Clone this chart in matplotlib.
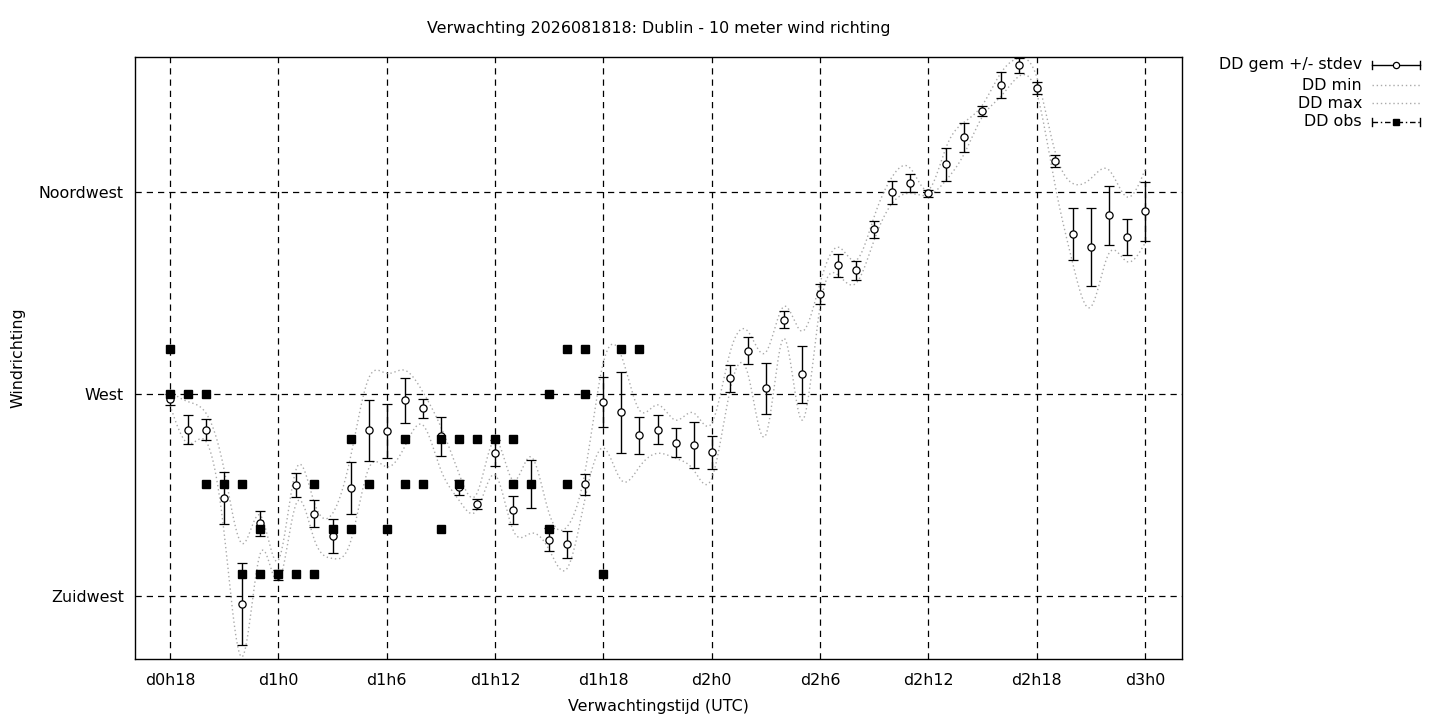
import matplotlib
matplotlib.use('agg')

import matplotlib.pyplot as plt
from matplotlib.lines import Line2D
import numpy as np

# forecast hours since d0h0
hours = list(range(18, 73))

dd_mean = [268.8, 262.1, 262.1, 246.8, 223.2, 241.2, 229.7, 249.7, 243.4, 238.3,
           249.0, 261.9, 261.7, 268.6, 266.8, 260.6, 249.2, 245.5, 256.8, 244.1,
           250.0, 237.6, 236.5, 249.9, 268.2, 265.9, 260.8, 262.1, 259.2, 258.6,
           257.0, 273.5, 279.7, 271.3, 286.6, 274.4, 292.2, 298.7, 297.6, 306.7,
           314.9, 317.1, 314.7, 321.2, 327.2, 333.0, 338.8, 343.2, 338.1, 321.9,
           305.6, 302.7, 309.8, 304.9, 310.7]
dd_std = [1.3, 3.2, 2.4, 5.8, 9.1, 2.8, 1.2, 2.7, 2.9, 3.8,
          5.8, 6.7, 6.0, 5.0, 2.2, 4.4, 1.7, 1.1, 2.9, 3.1,
          5.3, 2.6, 3.1, 2.3, 5.6, 9.0, 4.1, 3.2, 3.3, 5.1,
          3.6, 3.0, 2.9, 5.7, 1.9, 6.3, 2.2, 2.6, 2.1, 1.9,
          2.6, 2.0, 0.8, 3.7, 3.2, 1.1, 2.9, 1.6, 1.3, 1.4,
          5.8, 8.7, 6.6, 4.0, 6.6]
dd_min = [267.5, 259.0, 259.4, 239.0, 211.5, 234.5, 228.3, 245.7, 237.5, 233.4,
          237.1, 253.4, 253.8, 258.3, 263.1, 253.1, 246.4, 244.2, 252.0, 239.7,
          239.0, 235.3, 231.2, 247.0, 258.0, 250.8, 253.8, 256.8, 255.7, 253.1,
          251.2, 270.5, 274.6, 260.9, 282.4, 264.2, 289.4, 296.5, 294.7, 304.3,
          312.5, 314.7, 314.3, 317.7, 323.6, 331.8, 336.2, 340.7, 337.0, 316.9,
          299.1, 289.4, 301.3, 299.5, 303.6]
dd_max = [270.5, 268.3, 265.7, 253.1, 236.7, 243.0, 233.0, 253.4, 245.7, 243.4,
          256.0, 273.5, 274.6, 275.3, 270.5, 262.7, 252.3, 247.9, 259.8, 250.8,
          256.0, 243.4, 240.5, 253.0, 277.0, 278.5, 266.4, 267.6, 264.2, 265.8,
          263.5, 279.0, 284.0, 279.3, 289.5, 284.0, 294.7, 302.7, 299.8, 309.5,
          318.4, 320.3, 315.5, 325.1, 330.6, 334.4, 341.4, 344.8, 340.7, 324.3,
          316.9, 318.0, 319.9, 313.9, 319.9]

obs_hours = [18, 18, 19, 20, 20, 21, 22, 22, 23, 23, 24, 25, 26, 26, 27, 28, 28,
             29, 30, 31, 31, 32, 33, 33, 34, 34, 35, 36, 37, 37, 38, 39, 39,
             40, 40, 41, 41, 42, 43, 44]
obs_dd = [280, 270, 270, 270, 250, 250, 250, 230, 240, 230, 230, 230, 250, 230,
          240, 260, 240, 250, 240, 260, 250, 250, 260, 240, 260, 250, 260, 260,
          260, 250, 250, 270, 240, 280, 250, 280, 270, 230, 280, 280]

xtick_hours = [18, 24, 30, 36, 42, 48, 54, 60, 66, 72]
xtick_labels = ['d0h18', 'd1h0', 'd1h6', 'd1h12', 'd1h18',
                'd2h0', 'd2h6', 'd2h12', 'd2h18', 'd3h0']
ytick_values = [225, 270, 315]
ytick_labels = ['Zuidwest', 'West', 'Noordwest']


def csplines(x, y, n=1200):
    # natural cubic spline, like gnuplot's "smooth csplines"
    x = np.asarray(x, float)
    y = np.asarray(y, float)
    k = len(x)
    h = np.diff(x)
    A = np.zeros((k, k))
    b = np.zeros(k)
    A[0, 0] = A[-1, -1] = 1.0
    for i in range(1, k - 1):
        A[i, i - 1] = h[i - 1]
        A[i, i] = 2 * (h[i - 1] + h[i])
        A[i, i + 1] = h[i]
        b[i] = 6 * ((y[i + 1] - y[i]) / h[i] - (y[i] - y[i - 1]) / h[i - 1])
    M = np.linalg.solve(A, b)
    xs = np.linspace(x[0], x[-1], n)
    idx = np.clip(np.searchsorted(x, xs) - 1, 0, k - 2)
    x0, x1 = x[idx], x[idx + 1]
    hh = x1 - x0
    t0, t1 = x1 - xs, xs - x0
    ys = (M[idx] * t0 ** 3 + M[idx + 1] * t1 ** 3) / (6 * hh) \
        + (y[idx] / hh - M[idx] * hh / 6) * t0 \
        + (y[idx + 1] / hh - M[idx + 1] * hh / 6) * t1
    return xs, ys


plt.rcParams['font.family'] = ['DejaVu Sans']
FS = 11.4

fig = plt.figure(figsize=(14.4, 7.2), dpi=100)
ax = fig.add_axes([135 / 1440, 1 - 659 / 720, (1182 - 135) / 1440, (659 - 57) / 720])

dotted = dict(color='#aaaaaa', linewidth=1.0, linestyle=(0, (1, 2)), zorder=2)
xs, ys = csplines(hours, dd_min)
ax.plot(xs, ys, **dotted)
xs, ys = csplines(hours, dd_max)
ax.plot(xs, ys, **dotted)

ax.errorbar(hours, dd_mean, yerr=dd_std, fmt='o', ms=5.2, mfc='white', mec='black',
            mew=0.9, ecolor='black', elinewidth=1.0, capsize=3.6, capthick=1.0, zorder=4)
ax.plot(obs_hours, obs_dd, 's', ms=6.0, color='black', zorder=5)

ax.set_xlim(16.06, 74.05)
ax.set_ylim(211.0, 345.06)
ax.set_xticks(xtick_hours)
ax.set_xticklabels(xtick_labels)
ax.set_yticks(ytick_values)
ax.set_yticklabels(ytick_labels)
ax.tick_params(length=0, labelsize=FS)
ax.tick_params(axis='x', pad=10)
ax.tick_params(axis='y', pad=8)
ax.grid(True, color='black', linestyle=(0, (5, 4)), linewidth=0.9)
for s in ax.spines.values():
    s.set_linewidth(1.0)

fig.text(658.5 / 1440, 1 - 29 / 720, 'Verwachting 2026081818: Dublin - 10 meter wind richting',
         ha='center', va='center', fontsize=FS)
fig.text(658.5 / 1440, 1 - 707 / 720, 'Verwachtingstijd (UTC)',
         ha='center', va='center', fontsize=FS)
fig.text(18 / 1440, 1 - 358 / 720, 'Windrichting', rotation=90,
         ha='center', va='center', fontsize=FS)

# legend in gnuplot style, right of the plot
rows = [('DD gem +/- stdev', 65), ('DD min', 85), ('DD max', 103), ('DD obs', 122)]
x0, x1 = 1372 / 1440, 1420 / 1440
xm = (x0 + x1) / 2
cap = 4 / 720
for label, py in rows:
    yy = 1 - py / 720
    fig.text(1362 / 1440, yy, label, ha='right', va='center', fontsize=FS)
    if label == 'DD gem +/- stdev':
        fig.add_artist(Line2D([x0, x1], [yy, yy], color='black', lw=1.0))
        fig.add_artist(Line2D([x0, x0], [yy - cap, yy + cap], color='black', lw=1.0))
        fig.add_artist(Line2D([x1, x1], [yy - cap, yy + cap], color='black', lw=1.0))
        fig.add_artist(Line2D([xm], [yy], marker='o', ms=4.5, mfc='white', mec='black', mew=0.9))
    elif label == 'DD obs':
        fig.add_artist(Line2D([x0, x1], [yy, yy], color='black', lw=1.0,
                              linestyle=(0, (4, 2, 1, 2))))
        fig.add_artist(Line2D([x0, x0], [yy - cap, yy + cap], color='black', lw=1.0))
        fig.add_artist(Line2D([x1, x1], [yy - cap, yy + cap], color='black', lw=1.0))
        fig.add_artist(Line2D([xm], [yy], marker='s', ms=5, color='black'))
    else:
        fig.add_artist(Line2D([x0, x1], [yy, yy], **dotted))

fig.savefig('out.png', dpi=100)
plt.close(fig)
